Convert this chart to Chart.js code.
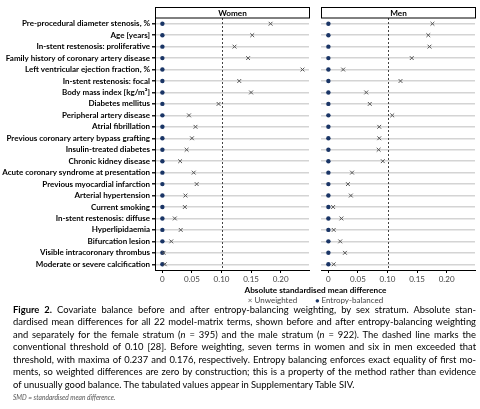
<!DOCTYPE html>
<html>
<head>
<meta charset="utf-8">
<script src="https://cdn.jsdelivr.net/npm/chart.js@4.4.1/dist/chart.umd.min.js"></script>
<style>
  html, body { margin: 0; padding: 0; background: #fff; }
  #wrap { position: relative; width: 480px; height: 409px; overflow: hidden; font-family: Lato, "Open Sans", sans-serif; color: #111; }
  #women { position: absolute; left: 0; top: 0; }
  #men { position: absolute; left: 316px; top: 0; }
  .axis-title { position: absolute; left: 155px; width: 321px; top: 285px; text-align: center; font-weight: bold; font-size: 8.2px; line-height: 10px; color: #000; }
  .legend { position: absolute; left: 155px; width: 321px; top: 295px; text-align: center; font-size: 8px; line-height: 10px; color: #444; }
  .legend .item { margin: 0 9px; }
  .legend .cross { color: #555; }
  .legend .dot { color: #1a3566; font-size: 7px; }
  #caption { position: absolute; left: 13px; width: 463px; top: 304px; font-size: 9.4px; line-height: 12.45px; color: #000; }
  #caption .ln { white-space: nowrap; }
  #caption.fit .ln { white-space: normal; text-align: justify; text-align-last: justify; }
  #caption.fit .ln.last { text-align-last: left; }
  .note { position: absolute; left: 13px; top: 393px; font-size: 6.6px; font-style: italic; color: #555; }
</style>
</head>
<body>
<div id="wrap">
  <canvas id="women" width="314" height="290"></canvas>
  <canvas id="men" width="164" height="290"></canvas>
  <div class="axis-title">Absolute standardised mean difference</div>
  <div class="legend"><span class="item"><span class="cross">×</span> Unweighted</span><span class="item"><span class="dot">●</span> Entropy-balanced</span></div>
  <div id="caption">
    <div class="ln"><b>Figure 2.</b> Covariate balance before and after entropy-balancing weighting, by sex stratum. Absolute stan-</div>
    <div class="ln">dardised mean differences for all 22 model-matrix terms, shown before and after entropy-balancing weighting</div>
    <div class="ln">and separately for the female stratum (<i>n</i> = 395) and the male stratum (<i>n</i> = 922). The dashed line marks the</div>
    <div class="ln">conventional threshold of 0.10 [28]. Before weighting, seven terms in women and six in men exceeded that</div>
    <div class="ln">threshold, with maxima of 0.237 and 0.176, respectively. Entropy balancing enforces exact equality of first mo-</div>
    <div class="ln">ments, so weighted differences are zero by construction; this is a property of the method rather than evidence</div>
    <div class="ln last">of unusually good balance. The tabulated values appear in Supplementary Table SIV.</div>
  </div>
  <div class="note">SMD = standardised mean difference.</div>
</div>
<script>
// Model-matrix terms, top to bottom
const terms = [
  'Pre-procedural diameter stenosis, %',
  'Age [years]',
  'In-stent restenosis: proliferative',
  'Family history of coronary artery disease',
  'Left ventricular ejection fraction, %',
  'In-stent restenosis: focal',
  'Body mass index [kg/m²]',
  'Diabetes mellitus',
  'Peripheral artery disease',
  'Atrial fibrillation',
  'Previous coronary artery bypass grafting',
  'Insulin-treated diabetes',
  'Chronic kidney disease',
  'Acute coronary syndrome at presentation',
  'Previous myocardial infarction',
  'Arterial hypertension',
  'Current smoking',
  'In-stent restenosis: diffuse',
  'Hyperlipidaemia',
  'Bifurcation lesion',
  'Visible intracoronary thrombus',
  'Moderate or severe calcification'
];

// Absolute SMD before weighting
const unweightedWomen = [0.183, 0.152, 0.122, 0.145, 0.237, 0.130, 0.150, 0.095, 0.045, 0.056,
  0.050, 0.041, 0.030, 0.053, 0.058, 0.039, 0.038, 0.021, 0.031, 0.015, 0.002, 0.004];
const unweightedMen = [0.176, 0.169, 0.171, 0.141, 0.025, 0.122, 0.064, 0.070, 0.108, 0.086,
  0.086, 0.085, 0.092, 0.040, 0.033, 0.038, 0.008, 0.022, 0.009, 0.020, 0.028, 0.009];

// Absolute SMD after entropy balancing (zero by construction)
const balancedWomen = [0, 0, 0, 0, 0, 0, 0, 0, 0, 0, 0, 0, 0, 0, 0, 0, 0, 0, 0, 0, 0, 0];
const balancedMen = [0, 0, 0, 0, 0, 0, 0, 0, 0, 0, 0, 0, 0, 0, 0, 0, 0, 0, 0, 0, 0, 0];

const xTicks = [0, 0.05, 0.10, 0.15, 0.20];
const threshold = 0.10;
const xMin = -0.0125;
const xMax = 0.248;

const navy = '#1a3566';
const crossGrey = '#555';

// caption: shrink font until the longest line fits, then justify
(function fitCaption() {
  const cap = document.getElementById('caption');
  const lines = cap.querySelectorAll('.ln');
  let maxW = 0;
  lines.forEach(l => {
    const r = document.createRange();
    r.selectNodeContents(l);
    maxW = Math.max(maxW, r.getBoundingClientRect().width);
  });
  const avail = 463;
  if (maxW > avail) {
    const size = parseFloat(getComputedStyle(cap).fontSize);
    cap.style.fontSize = (size * avail / maxW - 0.05) + 'px';
  }
  cap.classList.add('fit');
})();

// panel header box ("Women" / "Men") and dashed threshold line
const panelPlugin = {
  id: 'panel',
  beforeDatasetsDraw(chart, args, opts) {
    const { ctx, chartArea } = chart;
    const x = chart.scales.x.getPixelForValue(threshold);
    ctx.save();
    ctx.strokeStyle = '#444';
    ctx.lineWidth = 1;
    ctx.setLineDash([2, 2]);
    ctx.beginPath();
    ctx.moveTo(Math.round(x) + 0.5, chartArea.top);
    ctx.lineTo(Math.round(x) + 0.5, chartArea.bottom);
    ctx.stroke();
    ctx.restore();
  },
  afterDraw(chart, args, opts) {
    const { ctx, chartArea } = chart;
    const left = Math.round(chartArea.left) + 0.5;
    const right = Math.round(chartArea.right) + 0.5;
    ctx.save();
    ctx.fillStyle = '#fff';
    ctx.fillRect(left, 7.5, right - left, 10.5);
    ctx.strokeStyle = '#000';
    ctx.lineWidth = 1;
    ctx.strokeRect(left, 7.5, right - left, 10.5);
    ctx.fillStyle = '#000';
    ctx.font = 'bold 8.2px Lato';
    ctx.textAlign = 'center';
    ctx.textBaseline = 'middle';
    ctx.fillText(opts.title, (left + right) / 2, 13);
    ctx.restore();
  }
};

function makePanel(canvasId, title, unweighted, balanced, showLabels) {
  const canvas = document.getElementById(canvasId);
  return new Chart(canvas, {
    type: 'scatter',
    data: {
      datasets: [{
        label: 'Unweighted',
        data: terms.map((t, i) => ({ x: unweighted[i], y: t })),
        pointStyle: 'crossRot',
        radius: 2.7,
        borderColor: crossGrey,
        borderWidth: 1
      }, {
        label: 'Entropy-balanced',
        data: terms.map((t, i) => ({ x: balanced[i], y: t })),
        pointStyle: 'circle',
        radius: 2.2,
        backgroundColor: navy,
        borderColor: navy,
        borderWidth: 0
      }]
    },
    options: {
      responsive: false,
      animation: false,
      layout: { padding: showLabels ? { top: 18, right: 1, left: 0, bottom: 0 } : { top: 18, right: 4, left: 1, bottom: 0 } },
      scales: {
        x: {
          type: 'linear',
          min: xMin,
          max: xMax,
          afterBuildTicks: s => { s.ticks = xTicks.map(v => ({ value: v })); },
          afterFit: s => { s.height = 20; },
          grid: { drawOnChartArea: false, drawTicks: true, tickLength: 3, color: '#000' },
          border: { display: true, color: '#000', width: 1 },
          ticks: {
            callback: v => v === 0 ? '0' : v.toFixed(2),
            font: { family: 'Lato', size: 8 },
            color: '#444',
            padding: 2,
            maxRotation: 0
          }
        },
        y: {
          type: 'category',
          labels: terms,
          offset: true,
          afterFit: s => { s.width = showLabels ? 155 : 0; },
          grid: {
            offset: false,
            color: '#d4d4d4',
            lineWidth: 1.5,
            drawTicks: showLabels,
            tickLength: 3,
            tickColor: '#222'
          },
          border: { display: showLabels, color: '#000', width: 1 },
          ticks: {
            display: showLabels,
            autoSkip: false,
            font: { family: 'Lato', weight: 'bold', size: 8 },
            color: '#000',
            padding: 2
          }
        }
      },
      plugins: {
        legend: { display: false },
        tooltip: { enabled: false },
        panel: { title: title }
      }
    },
    plugins: [panelPlugin]
  });
}

makePanel('women', 'Women', unweightedWomen, balancedWomen, true);
makePanel('men', 'Men', unweightedMen, balancedMen, false);
</script>
</body>
</html>
